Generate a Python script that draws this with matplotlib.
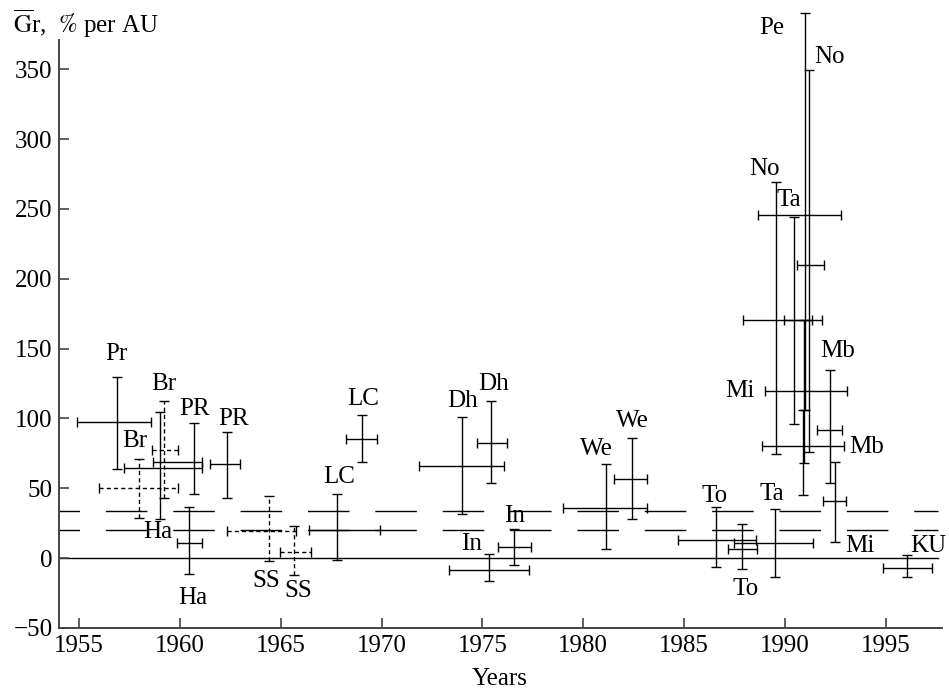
import matplotlib
matplotlib.use("Agg")
import matplotlib.pyplot as plt

plt.rcParams['font.family'] = ['Liberation Serif', 'DejaVu Serif']
plt.rcParams['mathtext.fontset'] = 'stix'

# Observation epochs (years) and mean gradient Gr (% per AU)
names = ['Pr', 'Br', 'Br', 'Br', 'PR', 'PR', 'Ha', 'SS', 'SS', 'LC', 'LC',
         'Dh', 'Dh', 'In', 'In', 'We', 'We', 'To', 'To', 'Ta', 'No', 'Ta',
         'Pe', 'No', 'Mi', 'Mb', 'Mb', 'Mi', 'KU']
year = [1956.86, 1957.96, 1959.00, 1959.20, 1960.70, 1962.31, 1960.46, 1964.41,
        1965.67, 1967.77, 1969.01, 1974.00, 1975.42, 1975.34, 1976.56, 1981.11,
        1982.40, 1986.58, 1987.86, 1989.51, 1989.56, 1990.45, 1991.00, 1991.21,
        1990.95, 1990.92, 1992.24, 1992.49, 1996.04]
year_lo = [1954.90, 1955.99, 1957.23, 1958.62, 1958.67, 1961.48, 1959.86, 1962.31,
           1964.96, 1966.41, 1968.26, 1971.87, 1974.71, 1973.34, 1975.78, 1978.98,
           1981.54, 1984.71, 1987.19, 1987.47, 1987.91, 1989.96, 1988.68, 1990.61,
           1989.01, 1988.85, 1991.61, 1991.90, 1994.85]
year_hi = [1958.56, 1959.91, 1961.10, 1959.91, 1961.07, 1962.97, 1961.10, 1965.78,
           1966.48, 1969.92, 1969.75, 1976.08, 1976.20, 1977.32, 1977.42, 1983.17,
           1983.17, 1988.57, 1988.60, 1991.40, 1991.87, 1991.33, 1992.77, 1991.95,
           1993.07, 1992.93, 1992.82, 1993.03, 1997.31]
gr = [97.2, 50.2, 64.5, 77.3, 69.2, 67.6, 10.8, 19.1, 4.3, 20.3, 85.5, 65.8,
      82.6, -8.2, 8.0, 36.0, 57.0, 13.1, 6.7, 10.7, 170.5, 170.2, 246.0, 209.8,
      119.4, 80.3, 92.0, 40.6, -7.3]
gr_lo = [64.0, 28.7, 28.0, 43.0, 45.9, 43.4, -11.3, -1.9, -12.0, -1.2, 69.0,
         31.6, 53.6, -16.6, -5.2, 6.8, 28.1, -6.5, -7.7, -13.6, 74.8, 96.3,
         106.3, 75.7, 68.1, 45.4, 53.8, 11.9, -13.7]
gr_hi = [129.5, 71.2, 104.4, 112.8, 96.8, 90.0, 36.3, 44.2, 22.7, 46.1, 102.2,
         101.4, 112.4, 3.2, 21.1, 67.7, 86.3, 36.3, 24.4, 35.3, 269.3, 244.2,
         390.2, 349.5, 170.7, 106.3, 135.0, 69.0, 2.5]
dashed = [False, True, False, True, False, False, False, True, True, False,
          False, False, False, False, False, False, False, False, False, False,
          False, False, False, False, False, False, False, False, False]

# Reference levels
ref_levels = [34.0, 20.0]

# Station labels and where they are written
label_text = ['Pr', 'Br', 'Br', 'PR', 'PR', 'Ha', 'Ha', 'SS', 'SS', 'LC', 'LC',
              'Dh', 'Dh', 'In', 'In', 'We', 'We', 'To', 'Ta', 'To', 'KU', 'Mi',
              'Mb', 'Mb', 'Mi', 'Ta', 'No', 'No', 'Pe']
label_xy = [(1956.86, 146.5), (1959.22, 124.7), (1957.76, 84.1), (1960.70, 106.8),
            (1962.64, 99.7), (1958.92, 18.4), (1960.65, -28.2), (1964.30, -16.3),
            (1965.86, -23.4), (1967.90, 57.8), (1969.09, 114.0), (1974.00, 112.8),
            (1975.54, 124.7), (1974.46, 10.1), (1976.58, 30.3), (1980.66, 78.2),
            (1982.45, 97.9), (1986.53, 44.7), (1989.35, 45.9), (1988.07, -22.0),
            (1997.11, 8.8), (1993.73, 8.8), (1994.06, 79.3), (1992.62, 148.6),
            (1987.77, 119.9), (1990.22, 256.1), (1989.01, 278.9), (1992.24, 358.9),
            (1989.35, 379.9)]

W, H = 949, 690
fig = plt.figure(figsize=(W / 100, H / 100), dpi=100)
ax = fig.add_axes([59 / W, 1 - 628 / H, (942 - 59) / W, (628 - 40) / H])

x0, x1 = 1954.0, 1997.8
ax.set_xlim(x0, x1)
ax.set_ylim(-50, 371)

# zero line and the two dashed reference levels
ax.plot([x0, 1997.6], [0, 0], color='black', lw=1.0, zorder=1)
for lev in ref_levels:
    ax.plot([x0, 1997.6], [lev, lev], color='black', lw=1.0,
            linestyle=(15.1, (29.9, 18.6)), zorder=1)

for i in range(len(year)):
    xe = [[year[i] - year_lo[i]], [year_hi[i] - year[i]]]
    ye = [[gr[i] - gr_lo[i]], [gr_hi[i] - gr[i]]]
    cont = ax.errorbar([year[i]], [gr[i]], xerr=xe, yerr=ye, fmt='none',
                       ecolor='black', elinewidth=1.0, capsize=3.6,
                       capthick=1.0, zorder=3)
    for art in cont.lines[1]:
        art.set_clip_on(False)
    for coll in cont.lines[2]:
        coll.set_clip_on(False)
        if dashed[i]:
            coll.set_linestyle((0, (3.0, 2.2)))

for t, (lx, ly) in zip(label_text, label_xy):
    ax.text(lx, ly, t, fontsize=18, ha='center', va='center', clip_on=False,
            zorder=4)

spine_col = '#444444'
for s in ['top', 'right']:
    ax.spines[s].set_visible(False)
for s in ['left', 'bottom']:
    ax.spines[s].set_color(spine_col)
    ax.spines[s].set_linewidth(1.4)

ax.set_xticks(list(range(1955, 1996, 5)))
ax.set_yticks(list(range(-50, 351, 50)))
ax.set_yticklabels(['\u221250'] + [str(v) for v in range(0, 351, 50)])
ax.tick_params(axis='both', direction='in', length=7, width=1.2,
               color=spine_col, labelsize=18)
ax.tick_params(axis='x', pad=5)
ax.tick_params(axis='y', pad=4.5)

fig.text(13 / W, 1 - 33 / H, r'$\overline{\mathrm{G}}$r,  $\mathit{\%}$ per AU',
         fontsize=18, ha='left', va='baseline')
fig.text(500 / W, 1 - 679 / H, 'Years', fontsize=18, ha='center', va='center')

fig.savefig('out.png', dpi=100)
